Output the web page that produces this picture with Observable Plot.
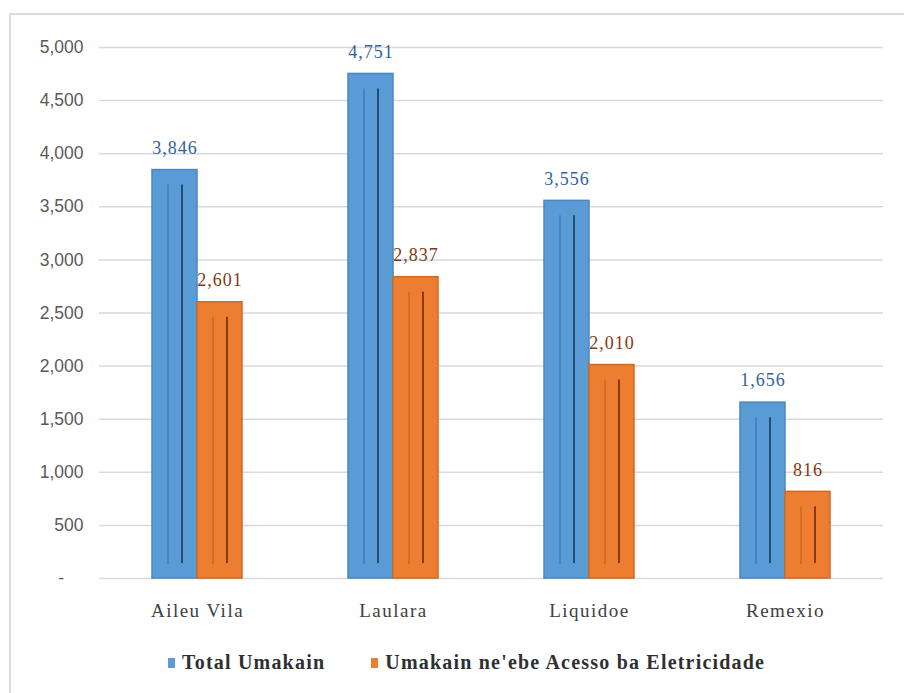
<!DOCTYPE html>
<html>
<head>
<meta charset="utf-8">
<script src="https://cdn.jsdelivr.net/npm/d3@7"></script>
<script src="https://cdn.jsdelivr.net/npm/@observablehq/plot@0.6"></script>
<style>
  html, body { margin: 0; padding: 0; background: #fff; }
  #wrap { position: relative; width: 904px; height: 693px; overflow: hidden; }
  #frame { position: absolute; left: 9px; top: 13px; width: 900px; height: 700px;
           border-left: 2px solid #dcdcdc; border-top: 2px solid #dcdcdc; }
  #chart { position: absolute; left: 0; top: 0; }
  #legend { position: absolute; left: 168px; top: 651px; display: flex; align-items: center;
            font-family: "Liberation Serif", "Times New Roman", serif; font-weight: bold; font-size: 20px; color: #303030; }
  .item { display: flex; align-items: center; }
  .sw { width: 7px; height: 10px; margin-right: 7px; }
</style>
</head>
<body>
<div id="wrap">
  <div id="frame"></div>
  <div id="chart"></div>
  <div id="legend"></div>
</div>
<script>
const categories = ["Aileu Vila", "Laulara", "Liquidoe", "Remexio"];
const series = ["Total Umakain", "Umakain ne'ebe Acesso ba Eletricidade"];
const totalUmakain = [3846, 4751, 3556, 1656];
const umakainAcesso = [2601, 2837, 2010, 816];
const yTicks = [0, 500, 1000, 1500, 2000, 2500, 3000, 3500, 4000, 4500, 5000];

const fills = ["#5b9bd5", "#ed7d31"];
const edges = ["#4a86c2", "#d2691f"];
const darkLines = ["#1f4e79", "#843c0c"];
const lightLines = ["#3f7bbd", "#d0651c"];
const labelColors = ["#2f62a3", "#7f3a12"];
const serifFont = "'Liberation Serif', 'Times New Roman', serif";

const rows = [];
categories.forEach((c, i) => {
  rows.push({category: c, series: series[0], s: 0, value: totalUmakain[i]});
  rows.push({category: c, series: series[1], s: 1, value: umakainAcesso[i]});
});

const fmt = d3.format(",");

const plot = Plot.plot({
  width: 904,
  height: 630,
  marginTop: 47,
  marginBottom: 52,
  marginLeft: 97,
  marginRight: 20,
  style: {background: "transparent"},
  fx: {domain: categories, padding: 0, label: null},
  x: {domain: series, paddingInner: 0, paddingOuter: 1.14, axis: null},
  y: {domain: [0, 5000], label: null},
  color: {domain: series, range: fills},
  marks: [
    Plot.gridY(yTicks, {stroke: "#d9d9d9", strokeOpacity: 1, strokeWidth: 1.5}),
    Plot.axisY({ticks: yTicks, tickSize: 0, tickPadding: 16, label: null,
      tickFormat: d => d === 0 ? "-\u00a0\u00a0\u00a0\u00a0" : fmt(d),
      fontSize: 17.5, fontFamily: "'Liberation Sans', Arial, sans-serif", fill: "#595959"}),
    Plot.axisFx({anchor: "bottom", tickSize: 0, tickPadding: 25, label: null,
      fontSize: 19, fontFamily: serifFont, fill: "#404040"}),
    Plot.barY(rows, {fx: "category", x: "series", y: "value", fill: "series",
      stroke: d => edges[d.s], strokeWidth: 1.5}),
    Plot.ruleX(rows, {fx: "category", x: "series", y1: "value", y2: 0, dx: -7,
      stroke: d => lightLines[d.s], strokeWidth: 1.5, insetTop: 15, insetBottom: 14}),
    Plot.ruleX(rows, {fx: "category", x: "series", y1: "value", y2: 0, dx: 7,
      stroke: d => darkLines[d.s], strokeWidth: 2, insetTop: 15, insetBottom: 15}),
    Plot.text(rows, {fx: "category", x: "series", y: "value", text: d => fmt(d.value),
      dy: -22, fill: d => labelColors[d.s], fontSize: 18, fontFamily: serifFont})
  ]
});

document.getElementById("chart").appendChild(plot);

d3.select(plot).selectAll("g[aria-label='fx-axis tick label'] text").style("letter-spacing", "1.5px");
d3.select(plot).selectAll("g[aria-label='text'] text").style("letter-spacing", "1px");

const legend = d3.select("#legend");
series.forEach((s, i) => {
  const it = legend.append("div").attr("class", "item").style("margin-right", i === 0 ? "46px" : "0");
  it.append("div").attr("class", "sw").style("background", fills[i]);
  it.append("span").text(s).style("letter-spacing", "1.2px");
});
</script>
</body>
</html>
